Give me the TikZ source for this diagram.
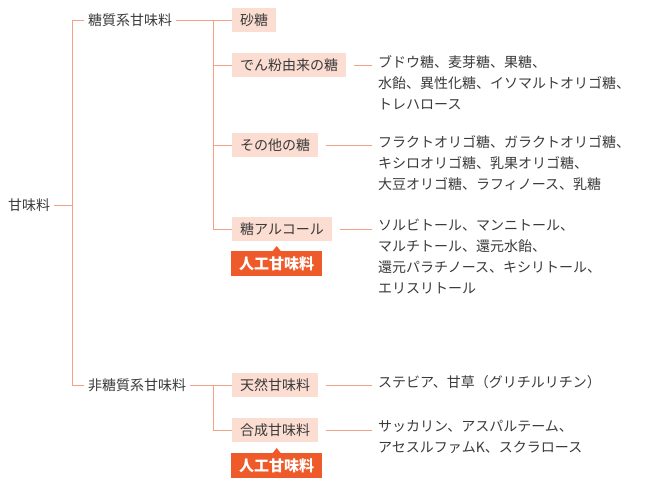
\documentclass[tikz,border=0pt]{standalone}
\usepackage{fontspec}
\usetikzlibrary{calc}
\setmainfont{Noto Sans CJK JP}
\definecolor{ln}{HTML}{F2A286}
\definecolor{bx}{HTML}{FCDDD2}
\definecolor{tx}{HTML}{3A3A3A}
\definecolor{rd}{HTML}{EE5A2A}
\tikzset{
 lbl/.style={text=tx,font=\fontsize{14}{21}\selectfont,inner sep=0pt},
 box/.style={lbl,fill=bx,minimum height=24pt,inner xsep=8pt,anchor=west},
 lst/.style={lbl,align=left,anchor=north west},
 tag/.style={fill=rd,text=white,font=\fontsize{15}{17}\selectfont\bfseries,minimum height=25pt,inner xsep=8pt,anchor=north west},
 cn/.style={draw=ln,line width=0.9pt}
}
\begin{document}
\begin{tikzpicture}[x=1pt,y=-1pt]
\useasboundingbox (0,0) rectangle (646,488);
\node[lbl,anchor=west] (root) at (8,205) {甘味料};
\node[lbl,anchor=west] (a) at (88,20) {糖質系甘味料};
\node[lbl,anchor=west] (b) at (88,385) {非糖質系甘味料};
\draw[cn] ($(root.east)+(4,0)$) -- (72,205);
\draw[cn] ($(a.west)+(-4,0)$) -- (72,20) -- (72,385) -- ($(b.west)+(-4,0)$);
\node[box] (s1) at (232,20) {砂糖};
\node[box] (s2) at (232,65) {でん粉由来の糖};
\node[box] (s3) at (232,145) {その他の糖};
\node[box] (s4) at (232,229) {糖アルコール};
\node[box] (n1) at (232,385) {天然甘味料};
\node[box] (n2) at (232,430) {合成甘味料};
\draw[cn] ($(a.east)+(4,0)$) -- (s1.west);
\draw[cn] (213,20) -- (213,229) -- (s4.west);
\draw[cn] (213,65) -- (s2.west);
\draw[cn] (213,145) -- (s3.west);
\draw[cn] ($(b.east)+(4,0)$) -- (n1.west);
\draw[cn] (213,385) -- (213,430) -- (n2.west);
\node[lst] (t2) at (378,55) {ブドウ糖、麦芽糖、果糖、\\水飴、異性化糖、イソマルトオリゴ糖、\\トレハロース};
\node[lst] (t3) at (378,135) {フラクトオリゴ糖、ガラクトオリゴ糖、\\キシロオリゴ糖、乳果オリゴ糖、\\大豆オリゴ糖、ラフィノース、乳糖};
\node[lst] (t4) at (378,219) {ソルビトール、マンニトール、\\マルチトール、還元水飴、\\還元パラチノース、キシリトール、\\エリスリトール};
\node[lst] (t5) at (378,375) {ステビア、甘草（グリチルリチン）};
\node[lst] (t6) at (378,420) {サッカリン、アスパルテーム、\\アセスルファムK、スクラロース};
\foreach \s/\t in {s2/t2,s3/t3,s4/t4,n1/t5,n2/t6} \draw[cn] ($(\s.east)+(8,0)$) -- ($(\t.north west |- \s.east)+(-6,0)$);
\node[tag] (k1) at (231,251) {人工甘味料};
\node[tag] (k2) at (231,453) {人工甘味料};
\fill[rd] ($(k1.north)+(-4,0)$) -- ++(4,-5) -- ++(4,5) -- cycle;
\fill[rd] ($(k2.north)+(-4,0)$) -- ++(4,-5) -- ++(4,5) -- cycle;
\end{tikzpicture}
\end{document}
